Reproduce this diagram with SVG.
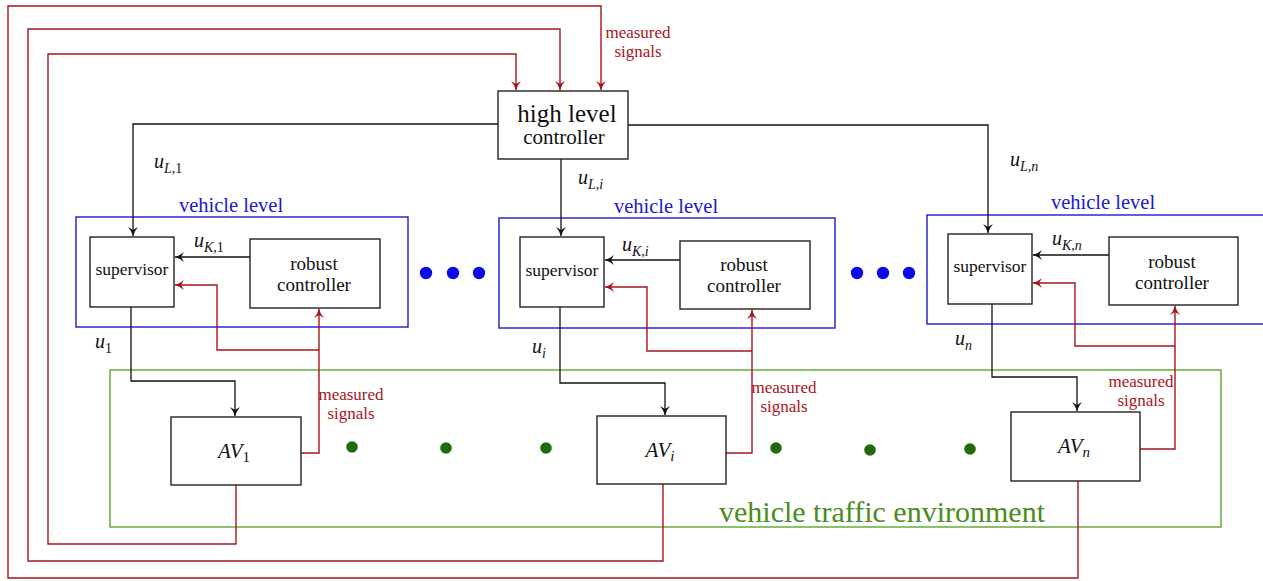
<svg xmlns="http://www.w3.org/2000/svg" width="1263" height="581" viewBox="0 0 1263 581" font-family="'Liberation Serif', 'DejaVu Serif', serif">
  <style>
    text { font-family: "Liberation Serif", "DejaVu Serif", serif; }
    .box { fill: #ffffff; stroke: #222222; stroke-width: 1.4; }
    .lvl { fill: none; stroke: #1a1ad0; stroke-width: 1.4; }
    .env { fill: none; stroke: #4aa020; stroke-width: 1.3; }
    .blk { fill: none; stroke: #111111; stroke-width: 1.3; }
    .red { fill: none; stroke: #a8141a; stroke-width: 1.4; }
    .redtxt { fill: #a8141a; font-size: 17px; text-anchor: middle; }
    .lvltxt { fill: #1a1ad0; font-size: 20.5px; text-anchor: middle; }
    .name { fill: #111111; text-anchor: middle; }
    .sup { font-size: 17.5px; }
    .rob { font-size: 19px; }
    .math { font-style: italic; font-size: 20px; fill: #111111; }
    .sub { font-size: 14px; }
    .bdot { fill: #0a0ae8; }
    .gdot { fill: #236b0a; }
  </style>
  <defs>
    <marker id="arrB" markerUnits="userSpaceOnUse" markerWidth="14" markerHeight="12" viewBox="-11 -6 14 12" refX="0" refY="0" orient="auto">
      <path d="M0,0 Q-5,-1.5 -9,-5 L-6,0 L-9,5 Q-5,1.5 0,0 Z" fill="#111111"/>
    </marker>
    <marker id="arrR" markerUnits="userSpaceOnUse" markerWidth="14" markerHeight="12" viewBox="-11 -6 14 12" refX="0" refY="0" orient="auto">
      <path d="M0,0 Q-5,-1.5 -9,-5 L-6,0 L-9,5 Q-5,1.5 0,0 Z" fill="#a8141a"/>
    </marker>
  </defs>

  <!-- environment and vehicle-level frames -->
  <g id="environment">
    <rect class="env" x="110" y="370" width="1111" height="157"/>
    <text x="882" y="522" font-size="30" fill="#4a8c20" text-anchor="middle">vehicle traffic environment</text>
  </g>
  <g id="vehicle-level-1">
    <rect class="lvl" x="76" y="217" width="332" height="110"/>
    <text class="lvltxt" x="231" y="212">vehicle level</text>
  </g>
  <g id="vehicle-level-i">
    <rect class="lvl" x="499" y="218" width="336" height="110"/>
    <text class="lvltxt" x="666" y="213">vehicle level</text>
  </g>
  <g id="vehicle-level-n">
    <rect class="lvl" x="927" y="215" width="340" height="109"/>
    <text class="lvltxt" x="1103" y="209">vehicle level</text>
  </g>

  <!-- connectors -->
  <g id="connectors">
    <!-- global feedback to the high level controller -->
    <path class="red" d="M236,485 V544 H48 V54 H516 V90" marker-end="url(#arrR)"/>
    <path class="red" d="M663,484 V561 H28 V29 H560 V90" marker-end="url(#arrR)"/>
    <path class="red" d="M1078,481 V578 H8 V6 H601 V90" marker-end="url(#arrR)"/>
    <!-- local measured signals -->
    <path class="red" d="M301,453 H319 V309" marker-end="url(#arrR)"/>
    <path class="red" d="M319,350 H217 V285 H175" marker-end="url(#arrR)"/>
    <path class="red" d="M726,453 H752 V310" marker-end="url(#arrR)"/>
    <path class="red" d="M752,351 H647 V287 H605" marker-end="url(#arrR)"/>
    <path class="red" d="M1140,449 H1175 V306" marker-end="url(#arrR)"/>
    <path class="red" d="M1175,346 H1075 V283 H1033" marker-end="url(#arrR)"/>
    <!-- high level commands -->
    <path class="blk" d="M498,124 H133 V236" marker-end="url(#arrB)"/>
    <path class="blk" d="M561,159 V236" marker-end="url(#arrB)"/>
    <path class="blk" d="M628,125 H988 V233" marker-end="url(#arrB)"/>
    <!-- robust controller outputs -->
    <path class="blk" d="M250,257 H175" marker-end="url(#arrB)"/>
    <path class="blk" d="M680,260 H605" marker-end="url(#arrB)"/>
    <path class="blk" d="M1109,255 H1033" marker-end="url(#arrB)"/>
    <!-- supervisor outputs -->
    <path class="blk" d="M131,307 V381 H235 V416" marker-end="url(#arrB)"/>
    <path class="blk" d="M560,307 V383 H665 V415" marker-end="url(#arrB)"/>
    <path class="blk" d="M992,304 V377 H1077 V411" marker-end="url(#arrB)"/>
  </g>

  <!-- labels on connectors -->
  <g id="labels">
    <text class="redtxt" x="638" y="38">measured</text>
    <text class="redtxt" x="638" y="57">signals</text>
    <text class="redtxt" x="351" y="400">measured</text>
    <text class="redtxt" x="351" y="419">signals</text>
    <text class="redtxt" x="784" y="393">measured</text>
    <text class="redtxt" x="784" y="412">signals</text>
    <text class="redtxt" x="1141" y="387">measured</text>
    <text class="redtxt" x="1141" y="406">signals</text>

    <text class="math" x="154" y="168">u<tspan class="sub" dy="5">L</tspan><tspan class="sub" font-style="normal">,1</tspan></text>
    <text class="math" x="578" y="184">u<tspan class="sub" dy="5">L</tspan><tspan class="sub">,i</tspan></text>
    <text class="math" x="1010" y="166">u<tspan class="sub" dy="5">L</tspan><tspan class="sub">,n</tspan></text>
    <text class="math" x="194" y="247">u<tspan class="sub" dy="5">K</tspan><tspan class="sub" font-style="normal">,1</tspan></text>
    <text class="math" x="622" y="251">u<tspan class="sub" dy="5">K</tspan><tspan class="sub">,i</tspan></text>
    <text class="math" x="1052" y="245">u<tspan class="sub" dy="5">K</tspan><tspan class="sub">,n</tspan></text>
    <text class="math" x="95" y="348">u<tspan class="sub" dy="5" font-style="normal">1</tspan></text>
    <text class="math" x="532" y="353">u<tspan class="sub" dy="5">i</tspan></text>
    <text class="math" x="955" y="345">u<tspan class="sub" dy="5">n</tspan></text>
  </g>

  <!-- high level controller -->
  <g id="high-level-controller">
    <rect class="box" x="498" y="91" width="130" height="68"/>
    <text class="name" x="567" y="122" font-size="25">high level</text>
    <text class="name" x="564" y="144" font-size="21">controller</text>
  </g>

  <!-- vehicle 1 -->
  <g id="supervisor-1">
    <rect class="box" x="90" y="237" width="84" height="70"/>
    <text class="name sup" x="132" y="275">supervisor</text>
  </g>
  <g id="robust-controller-1">
    <rect class="box" x="250" y="239" width="130" height="69"/>
    <text class="name rob" x="314" y="270">robust</text>
    <text class="name rob" x="314" y="291">controller</text>
  </g>
  <g id="av-1">
    <rect class="box" x="171" y="417" width="130" height="68"/>
    <text class="name" x="234" y="458" font-size="21" font-style="italic">AV<tspan font-size="15" font-style="normal" dy="4">1</tspan></text>
  </g>

  <!-- vehicle i -->
  <g id="supervisor-i">
    <rect class="box" x="520" y="237" width="84" height="70"/>
    <text class="name sup" x="562" y="276">supervisor</text>
  </g>
  <g id="robust-controller-i">
    <rect class="box" x="680" y="241" width="130" height="68"/>
    <text class="name rob" x="744" y="271">robust</text>
    <text class="name rob" x="744" y="292">controller</text>
  </g>
  <g id="av-i">
    <rect class="box" x="597" y="416" width="129" height="68"/>
    <text class="name" x="660" y="457" font-size="21" font-style="italic">AV<tspan font-size="15" dy="4">i</tspan></text>
  </g>

  <!-- vehicle n -->
  <g id="supervisor-n">
    <rect class="box" x="948" y="234" width="84" height="70"/>
    <text class="name sup" x="990" y="272">supervisor</text>
  </g>
  <g id="robust-controller-n">
    <rect class="box" x="1109" y="237" width="129" height="68"/>
    <text class="name rob" x="1172" y="268">robust</text>
    <text class="name rob" x="1172" y="289">controller</text>
  </g>
  <g id="av-n">
    <rect class="box" x="1011" y="412" width="129" height="69"/>
    <text class="name" x="1074" y="453" font-size="21" font-style="italic">AV<tspan font-size="15" dy="4">n</tspan></text>
  </g>

  <!-- ellipsis dots -->
  <g id="dots">
    <circle class="bdot" cx="426" cy="273" r="6.2"/>
    <circle class="bdot" cx="453" cy="273" r="6.2"/>
    <circle class="bdot" cx="479" cy="273" r="6.2"/>
    <circle class="bdot" cx="857" cy="273" r="6.2"/>
    <circle class="bdot" cx="883" cy="273" r="6.2"/>
    <circle class="bdot" cx="909" cy="273" r="6.2"/>
    <circle class="gdot" cx="352" cy="447" r="5.8"/>
    <circle class="gdot" cx="446" cy="448" r="5.8"/>
    <circle class="gdot" cx="546" cy="448" r="5.8"/>
    <circle class="gdot" cx="776" cy="448" r="5.8"/>
    <circle class="gdot" cx="870" cy="450" r="5.8"/>
    <circle class="gdot" cx="970" cy="449" r="5.8"/>
  </g>
</svg>
